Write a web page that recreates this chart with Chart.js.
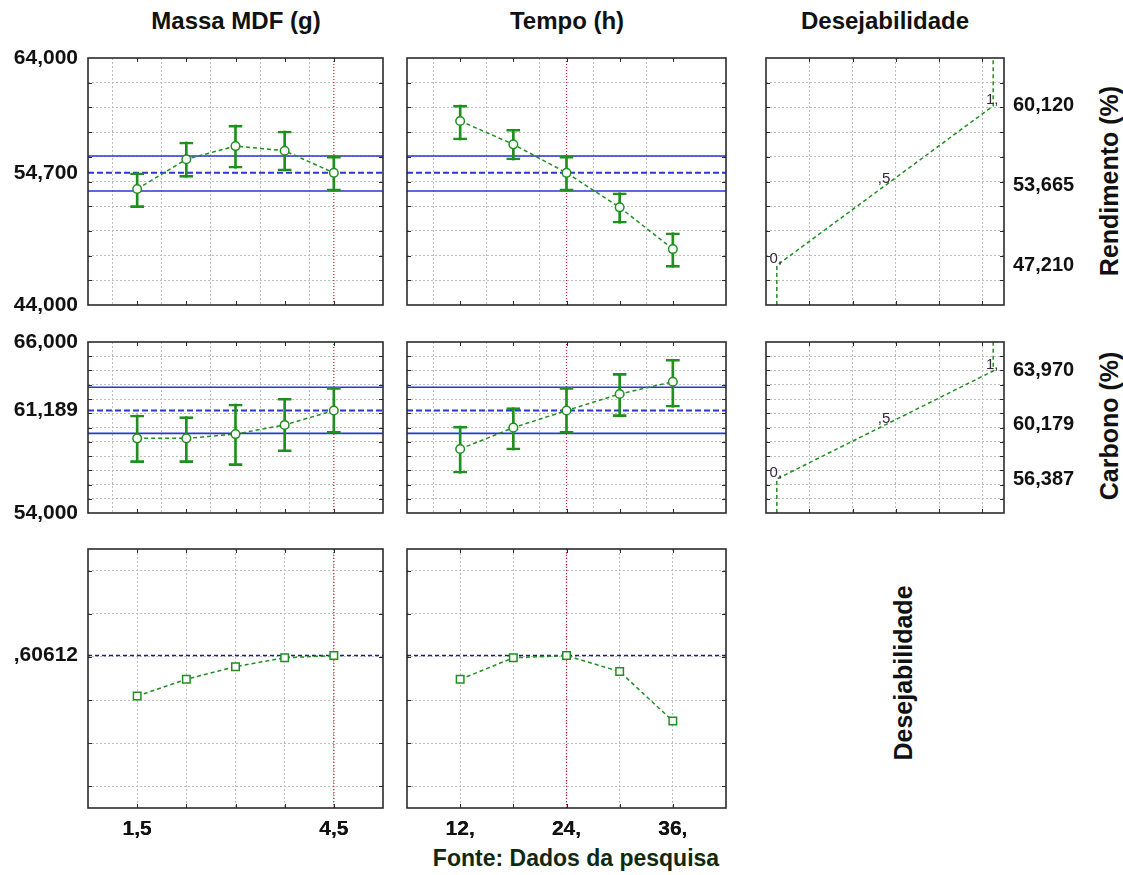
<!DOCTYPE html>
<html lang="pt">
<head>
<meta charset="UTF-8">
<title>Perfis de desejabilidade</title>
<script src="https://cdn.jsdelivr.net/npm/chart.js@4.4.1/dist/chart.umd.min.js"></script>
<style>
  body { margin: 0; background: #fff; font-family: 'Liberation Sans', Arial, sans-serif; }
  #page { position: relative; width: 1123px; height: 875px; overflow: hidden; }
  canvas { position: absolute; }
  .lbl { position: absolute; font-weight: bold; color: #111; white-space: nowrap; }
  .colTitle { font-size: 24px; line-height: 24px; top: 9px; transform: translateX(-50%); }
  .rowTitle { font-size: 25px; line-height: 25px; transform: translate(-50%, -50%) rotate(-90deg); }
  #fonte { font-size: 23px; line-height: 23px; top: 847px; left: 576px; color: #0e2a0e; transform: translateX(-50%); }
</style>
</head>
<body>
<div id="page">
  <div class="lbl colTitle" style="left:236px">Massa MDF (g)</div>
  <div class="lbl colTitle" style="left:567px">Tempo (h)</div>
  <div class="lbl colTitle" style="left:885px">Desejabilidade</div>
  <div class="lbl rowTitle" style="left:1109px; top:181px">Rendimento (%)</div>
  <div class="lbl rowTitle" style="left:1109px; top:426px">Carbono (%)</div>
  <div class="lbl rowTitle" style="left:903px; top:673px">Desejabilidade</div>
  <div class="lbl" id="fonte">Fonte: Dados da pesquisa</div>
</div>

<script>
// factor levels and current setting
const massaLevels = [1.5, 2.25, 3.0, 3.75, 4.5];
const tempoLevels = [12, 18, 24, 30, 36];
const massaNow = 4.5;
const tempoNow = 24;
const massaRange = [0.75, 5.25];
const tempoRange = [6, 42];

// Rendimento (%)
const rendMassa   = [53.39, 55.80, 56.87, 56.49, 54.70];
const rendMassaLo = [51.88, 54.34, 55.07, 54.85, 53.23];
const rendMassaHi = [54.71, 57.20, 58.57, 58.09, 56.06];
const rendTempo   = [58.90, 57.01, 54.70, 51.91, 48.53];
const rendTempoLo = [57.36, 55.74, 53.23, 50.62, 47.05];
const rendTempoHi = [60.19, 58.23, 56.06, 53.09, 49.85];
const rendPred = 54.70;
const rendCI = [53.23, 56.06];
const rendRange = [44, 64];

// Carbono (%)
const carbMassa   = [59.24, 59.24, 59.54, 60.18, 61.19];
const carbMassaLo = [57.53, 57.53, 57.32, 58.30, 59.59];
const carbMassaHi = [60.88, 60.76, 61.65, 62.05, 62.82];
const carbTempo   = [58.49, 59.99, 61.19, 62.35, 63.21];
const carbTempoLo = [56.79, 58.42, 59.59, 60.76, 61.42];
const carbTempoHi = [60.10, 61.39, 62.82, 63.80, 64.79];
const carbPred = 61.189;
const carbCI = [59.59, 62.82];
const carbRange = [54, 66];

// Desejabilidade global
const desMassa = [0.419, 0.496, 0.555, 0.596, 0.606];
const desTempo = [0.496, 0.596, 0.606, 0.532, 0.303];
const desPred = 0.60612;
const desRange = [-0.1, 1.1];

// desirability functions (x = desirability, y = response)
const desirX = [0, 0, 1, 1];
const rendDesirY = [44, 47.21, 60.12, 64];
const carbDesirY = [54, 56.387, 63.97, 66];
const desirRange = [-0.05, 1.05];
const desirNoteX = [0, 0.5, 1];
const desirNoteText = ['0,', ',5', '1,'];
const rendNoteY = [47.21, 53.665, 60.12];
const carbNoteY = [56.387, 60.179, 63.97];

// axis ticks
const rendGrid = [46, 48, 50, 52, 54, 56, 58, 60, 62];
const rendLeftVals = [44, 54.7, 64];
const rendLeftText = ['44,000', '54,700', '64,000'];
const rendRightVals = [47.21, 53.665, 60.12];
const rendRightText = ['47,210', '53,665', '60,120'];
const carbGrid = [55, 56, 57, 58, 59, 60, 61, 62, 63, 64, 65];
const carbLeftVals = [54, 61.189, 66];
const carbLeftText = ['54,000', '61,189', '66,000'];
const carbRightVals = [56.387, 60.179, 63.97];
const carbRightText = ['56,387', '60,179', '63,970'];
const desGrid = [0, 0.2, 0.4, 0.6, 0.8, 1.0];
const desLeftVals = [0.60612];
const desLeftText = [',60612'];
const desirGrid = [0.15, 0.35, 0.55, 0.75, 0.95];
const massaLabelVals = [1.5, 4.5];
const massaLabelText = ['1,5', '4,5'];
const tempoLabelVals = [12, 24, 36];
const tempoLabelText = ['12,', '24,', '36,'];

const GREEN = '#1f8f1f';
const BLUE = '#2a36d6';
const NAVY = '#1c1c8a';
const RED = '#d02020';
const GRID = '#bdbdbd';
const FONT = "'Liberation Sans', Arial, sans-serif";
const TOP = 28;

// plot rectangles of the grid of panels
const cols = [
  { l: 88, r: 383, padL: 0, padR: 8 },
  { l: 407, r: 726, padL: 10, padR: 8 },
  { l: 766, r: 1004, padL: 10, padR: 0 }
];
const rows = [
  { t: 58, b: 305, axisH: 28 },
  { t: 342, b: 513, axisH: 28 },
  { t: 549, b: 808, axisH: 40 }
];

function pts(xs, ys) { return xs.map((x, i) => ({ x, y: ys[i] })); }
function hline(xr, y) { return [{ x: xr[0], y }, { x: xr[1], y }]; }
function vline(x, yr) { return [{ x, y: yr[0] }, { x, y: yr[1] }]; }
function spans(xs, lo, hi) { return xs.map((x, i) => ({ x, y: [lo[i], hi[i]] })); }

function axis(c) {
  const labels = c.labels || [];
  const texts = c.texts || [];
  return {
    type: 'linear', position: c.position, min: c.range[0], max: c.range[1], offset: false,
    afterBuildTicks: s => {
      s.ticks = c.grid.concat(labels).sort((a, b) => a - b).map(v => ({ value: v }));
    },
    afterFit: s => { if (s.isHorizontal()) s.height = c.size; else s.width = c.size; },
    grid: {
      color: ctx => (ctx.tick && c.grid.includes(ctx.tick.value)) ? GRID : 'rgba(0,0,0,0)',
      lineWidth: 1, drawTicks: false
    },
    border: { display: false, dash: [2, 2] },
    ticks: {
      display: texts.length > 0, autoSkip: false, maxRotation: 0, padding: c.pad || 0,
      color: '#111', font: { family: FONT, size: c.fontSize || 21, weight: 'bold' },
      callback: v => { const i = labels.indexOf(v); return i >= 0 ? texts[i] : ''; }
    }
  };
}

// frame, inner tick marks and value notes
const framePlugin = {
  id: 'frame',
  afterDraw(chart, args, o) {
    const { ctx, chartArea: a, scales } = chart;
    ctx.save();
    ctx.strokeStyle = '#2b2b2b';
    ctx.lineWidth = 1;
    ctx.beginPath();
    (o.xMarks || []).forEach(v => {
      const px = Math.round(scales.x.getPixelForValue(v)) + 0.5;
      ctx.moveTo(px, a.top); ctx.lineTo(px, a.top + 4);
      ctx.moveTo(px, a.bottom); ctx.lineTo(px, a.bottom - 4);
    });
    (o.yMarks || []).forEach(v => {
      const py = Math.round(scales.y.getPixelForValue(v)) + 0.5;
      ctx.moveTo(a.left, py); ctx.lineTo(a.left + 4, py);
      ctx.moveTo(a.right, py); ctx.lineTo(a.right - 4, py);
    });
    ctx.stroke();
    ctx.lineWidth = 1.6;
    ctx.strokeRect(a.left, a.top, a.width, a.height);
    if (o.notes) {
      ctx.fillStyle = '#3a2440';
      ctx.font = '15px ' + FONT;
      ctx.textAlign = 'center';
      ctx.textBaseline = 'bottom';
      o.notes.x.forEach((x, i) => {
        ctx.fillText(o.notes.text[i], scales.x.getPixelForValue(x) - 1, scales.y.getPixelForValue(o.notes.y[i]) + 1);
      });
    }
    ctx.restore();
  }
};
Chart.register(framePlugin);

function panel(ci, ri, datasets, xAx, yAx, notes) {
  const col = cols[ci], row = rows[ri];
  const yRight = yAx.position === 'right';
  const leftW = yRight ? 0 : yAx.size;
  const rightW = yRight ? yAx.size : 0;
  const cv = document.createElement('canvas');
  cv.width = col.padL + leftW + (col.r - col.l) + rightW + col.padR;
  cv.height = TOP + (row.b - row.t) + row.axisH;
  cv.style.left = (col.l - leftW - col.padL) + 'px';
  cv.style.top = (row.t - TOP) + 'px';
  document.getElementById('page').appendChild(cv);
  xAx.size = row.axisH;
  new Chart(cv, {
    type: 'line',
    data: { datasets },
    options: {
      responsive: false, animation: false, events: [],
      layout: { padding: { top: TOP, left: col.padL, right: col.padR, bottom: 0 } },
      scales: { x: axis(xAx), y: axis(yAx) },
      plugins: {
        legend: { display: false }, tooltip: { enabled: false },
        frame: { xMarks: xAx.grid, yMarks: yAx.grid, notes }
      }
    }
  });
}

function lineSet(data, color, dash, width) {
  return { data, borderColor: color, borderDash: dash, borderWidth: width, pointRadius: 0, fill: false, tension: 0 };
}

function responseSets(xs, ys, lo, hi, pred, ci, xr, yr, now) {
  return [
    { data: pts(xs, ys), borderColor: GREEN, borderDash: [4, 3], borderWidth: 1.5,
      pointStyle: 'circle', pointRadius: 4.3, pointBorderWidth: 1.5,
      pointBorderColor: GREEN, pointBackgroundColor: '#fff', fill: false, tension: 0 },
    { type: 'bar', data: spans(xs, lo, hi), backgroundColor: GREEN, barThickness: 2, grouped: false, borderWidth: 0 },
    { type: 'bar', data: spans(xs, lo, hi), backgroundColor: 'rgba(0,0,0,0)', borderColor: GREEN,
      borderWidth: { top: 2, bottom: 2, left: 0, right: 0 }, borderSkipped: false, barThickness: 14, grouped: false },
    lineSet(hline(xr, pred), BLUE, [6, 3], 2),
    lineSet(hline(xr, ci[0]), BLUE, [], 1.6),
    lineSet(hline(xr, ci[1]), BLUE, [], 1.6),
    lineSet(vline(now, yr), RED, [1, 2], 1.2)
  ];
}

function desirSets(xs, ys, xr, yr, now) {
  return [
    { data: pts(xs, ys), borderColor: GREEN, borderDash: [4, 3], borderWidth: 1.5,
      pointStyle: 'rect', pointRadius: 5.3, pointBorderWidth: 1.5,
      pointBorderColor: GREEN, pointBackgroundColor: '#fff', fill: false, tension: 0 },
    lineSet(hline(xr, desPred), NAVY, [4, 3], 1.5),
    lineSet(vline(now, yr), RED, [1, 2], 1.2)
  ];
}

const massaAxis = () => ({ range: massaRange, grid: massaLevels });
const tempoAxis = () => ({ range: tempoRange, grid: tempoLevels });
const desirAxis = () => ({ range: desirRange, grid: desirGrid });

// row 1: Rendimento
panel(0, 0, responseSets(massaLevels, rendMassa, rendMassaLo, rendMassaHi, rendPred, rendCI, massaRange, rendRange, massaNow),
  massaAxis(), { range: rendRange, grid: rendGrid, labels: rendLeftVals, texts: rendLeftText, position: 'left', size: 88, pad: 10 });
panel(1, 0, responseSets(tempoLevels, rendTempo, rendTempoLo, rendTempoHi, rendPred, rendCI, tempoRange, rendRange, tempoNow),
  tempoAxis(), { range: rendRange, grid: rendGrid, position: 'left', size: 0 });
panel(2, 0, [lineSet(pts(desirX, rendDesirY), GREEN, [4, 3], 1.5)],
  desirAxis(), { range: rendRange, grid: rendGrid, labels: rendRightVals, texts: rendRightText, position: 'right', size: 81, pad: 9, fontSize: 20 },
  { x: desirNoteX, y: rendNoteY, text: desirNoteText });

// row 2: Carbono
panel(0, 1, responseSets(massaLevels, carbMassa, carbMassaLo, carbMassaHi, carbPred, carbCI, massaRange, carbRange, massaNow),
  massaAxis(), { range: carbRange, grid: carbGrid, labels: carbLeftVals, texts: carbLeftText, position: 'left', size: 88, pad: 10 });
panel(1, 1, responseSets(tempoLevels, carbTempo, carbTempoLo, carbTempoHi, carbPred, carbCI, tempoRange, carbRange, tempoNow),
  tempoAxis(), { range: carbRange, grid: carbGrid, position: 'left', size: 0 });
panel(2, 1, [lineSet(pts(desirX, carbDesirY), GREEN, [4, 3], 1.5)],
  desirAxis(), { range: carbRange, grid: carbGrid, labels: carbRightVals, texts: carbRightText, position: 'right', size: 81, pad: 9, fontSize: 20 },
  { x: desirNoteX, y: carbNoteY, text: desirNoteText });

// row 3: Desejabilidade
panel(0, 2, desirSets(massaLevels, desMassa, massaRange, desRange, massaNow),
  { range: massaRange, grid: massaLevels, labels: massaLabelVals, texts: massaLabelText, pad: 9 },
  { range: desRange, grid: desGrid, labels: desLeftVals, texts: desLeftText, position: 'left', size: 88, pad: 10 });
panel(1, 2, desirSets(tempoLevels, desTempo, tempoRange, desRange, tempoNow),
  { range: tempoRange, grid: tempoLevels, labels: tempoLabelVals, texts: tempoLabelText, pad: 9 },
  { range: desRange, grid: desGrid, position: 'left', size: 0 });
</script>
</body>
</html>
